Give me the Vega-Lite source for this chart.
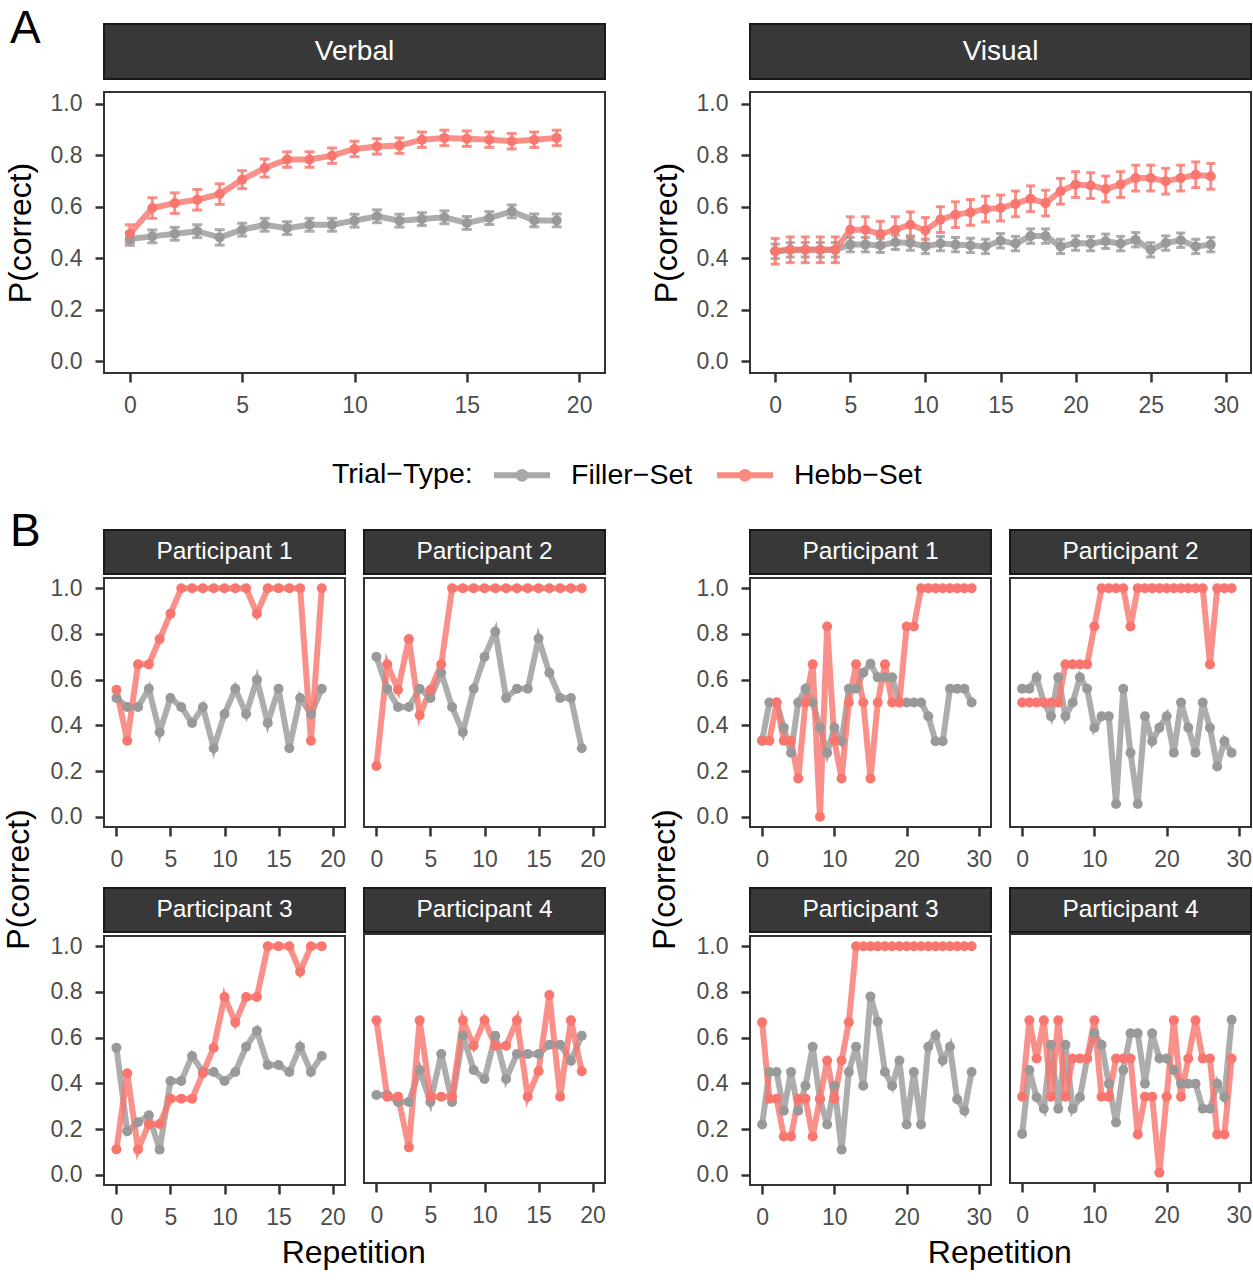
{
  "$schema": "https://vega.github.io/schema/vega-lite/v6.json",
  "description": "Hebb repetition learning: P(correct) by repetition, verbal and visual",
  "background": "white",
  "padding": {"left": 3, "top": 6, "right": 2, "bottom": 4},
  "config": {
    "font": "Liberation Sans",
    "view": {"stroke": "#333333", "strokeWidth": 2},
    "axis": {
      "grid": false, "domain": false, "tickColor": "#333333", "tickWidth": 2.5, "tickSize": 9,
      "labelColor": "#4d4d4d", "labelFontSize": 23, "titleFontSize": 32, "titleFontWeight": "normal", "titleColor": "#000000"
    },
    "axisX": {"labelPadding": 12, "labelAngle": 0},
    "axisY": {"labelPadding": 13, "titlePadding": 13},
    "legend": {
      "orient": "none", "legendX": 228, "legendY": 434, "direction": "horizontal",
      "titleOrient": "left", "titleAnchor": "middle", "titleBaseline": "middle",
      "titleFontSize": 28.5, "titleFontWeight": "normal", "titleColor": "#000000", "titlePadding": 18,
      "labelFontSize": 28.5, "labelColor": "#000000", "labelOffset": 46, "columnPadding": 12,
      "symbolType": "M-1,0L3,0M0.76,0A0.24,0.24,0,1,1,1.24,0A0.24,0.24,0,1,1,0.76,0",
      "symbolSize": 784, "symbolStrokeWidth": 6, "symbolOpacity": 0.85
    },
    "title": {"fontWeight": "normal", "color": "#000000"}
  },
  "datasets": {
    "agg": [
      {"task":"Verbal","rep":0,"type":"Filler−Set","m":0.475,"lo":0.45,"hi":0.5},
      {"task":"Verbal","rep":1,"type":"Filler−Set","m":0.485,"lo":0.46,"hi":0.51},
      {"task":"Verbal","rep":2,"type":"Filler−Set","m":0.495,"lo":0.47,"hi":0.52},
      {"task":"Verbal","rep":3,"type":"Filler−Set","m":0.505,"lo":0.48,"hi":0.53},
      {"task":"Verbal","rep":4,"type":"Filler−Set","m":0.481,"lo":0.451,"hi":0.511},
      {"task":"Verbal","rep":5,"type":"Filler−Set","m":0.511,"lo":0.486,"hi":0.536},
      {"task":"Verbal","rep":6,"type":"Filler−Set","m":0.53,"lo":0.505,"hi":0.555},
      {"task":"Verbal","rep":7,"type":"Filler−Set","m":0.517,"lo":0.492,"hi":0.542},
      {"task":"Verbal","rep":8,"type":"Filler−Set","m":0.53,"lo":0.505,"hi":0.555},
      {"task":"Verbal","rep":9,"type":"Filler−Set","m":0.53,"lo":0.505,"hi":0.555},
      {"task":"Verbal","rep":10,"type":"Filler−Set","m":0.546,"lo":0.521,"hi":0.571},
      {"task":"Verbal","rep":11,"type":"Filler−Set","m":0.563,"lo":0.538,"hi":0.588},
      {"task":"Verbal","rep":12,"type":"Filler−Set","m":0.546,"lo":0.521,"hi":0.571},
      {"task":"Verbal","rep":13,"type":"Filler−Set","m":0.552,"lo":0.527,"hi":0.577},
      {"task":"Verbal","rep":14,"type":"Filler−Set","m":0.559,"lo":0.534,"hi":0.584},
      {"task":"Verbal","rep":15,"type":"Filler−Set","m":0.537,"lo":0.512,"hi":0.562},
      {"task":"Verbal","rep":16,"type":"Filler−Set","m":0.556,"lo":0.531,"hi":0.581},
      {"task":"Verbal","rep":17,"type":"Filler−Set","m":0.582,"lo":0.557,"hi":0.607},
      {"task":"Verbal","rep":18,"type":"Filler−Set","m":0.547,"lo":0.522,"hi":0.572},
      {"task":"Verbal","rep":19,"type":"Filler−Set","m":0.547,"lo":0.522,"hi":0.572},
      {"task":"Verbal","rep":0,"type":"Hebb−Set","m":0.495,"lo":0.46,"hi":0.53},
      {"task":"Verbal","rep":1,"type":"Hebb−Set","m":0.595,"lo":0.555,"hi":0.635},
      {"task":"Verbal","rep":2,"type":"Hebb−Set","m":0.614,"lo":0.574,"hi":0.654},
      {"task":"Verbal","rep":3,"type":"Hebb−Set","m":0.627,"lo":0.587,"hi":0.667},
      {"task":"Verbal","rep":4,"type":"Hebb−Set","m":0.649,"lo":0.609,"hi":0.689},
      {"task":"Verbal","rep":5,"type":"Hebb−Set","m":0.705,"lo":0.67,"hi":0.74},
      {"task":"Verbal","rep":6,"type":"Hebb−Set","m":0.75,"lo":0.715,"hi":0.785},
      {"task":"Verbal","rep":7,"type":"Hebb−Set","m":0.783,"lo":0.753,"hi":0.813},
      {"task":"Verbal","rep":8,"type":"Hebb−Set","m":0.783,"lo":0.753,"hi":0.813},
      {"task":"Verbal","rep":9,"type":"Hebb−Set","m":0.798,"lo":0.768,"hi":0.828},
      {"task":"Verbal","rep":10,"type":"Hebb−Set","m":0.824,"lo":0.794,"hi":0.854},
      {"task":"Verbal","rep":11,"type":"Hebb−Set","m":0.834,"lo":0.804,"hi":0.864},
      {"task":"Verbal","rep":12,"type":"Hebb−Set","m":0.837,"lo":0.807,"hi":0.867},
      {"task":"Verbal","rep":13,"type":"Hebb−Set","m":0.86,"lo":0.83,"hi":0.89},
      {"task":"Verbal","rep":14,"type":"Hebb−Set","m":0.867,"lo":0.837,"hi":0.897},
      {"task":"Verbal","rep":15,"type":"Hebb−Set","m":0.864,"lo":0.834,"hi":0.894},
      {"task":"Verbal","rep":16,"type":"Hebb−Set","m":0.86,"lo":0.83,"hi":0.89},
      {"task":"Verbal","rep":17,"type":"Hebb−Set","m":0.854,"lo":0.824,"hi":0.884},
      {"task":"Verbal","rep":18,"type":"Hebb−Set","m":0.86,"lo":0.83,"hi":0.89},
      {"task":"Verbal","rep":19,"type":"Hebb−Set","m":0.867,"lo":0.837,"hi":0.897},
      {"task":"Visual","rep":0,"type":"Filler−Set","m":0.427,"lo":0.399,"hi":0.455},
      {"task":"Visual","rep":1,"type":"Filler−Set","m":0.433,"lo":0.405,"hi":0.461},
      {"task":"Visual","rep":2,"type":"Filler−Set","m":0.433,"lo":0.405,"hi":0.461},
      {"task":"Visual","rep":3,"type":"Filler−Set","m":0.433,"lo":0.405,"hi":0.461},
      {"task":"Visual","rep":4,"type":"Filler−Set","m":0.433,"lo":0.405,"hi":0.461},
      {"task":"Visual","rep":5,"type":"Filler−Set","m":0.453,"lo":0.425,"hi":0.481},
      {"task":"Visual","rep":6,"type":"Filler−Set","m":0.453,"lo":0.425,"hi":0.481},
      {"task":"Visual","rep":7,"type":"Filler−Set","m":0.45,"lo":0.422,"hi":0.478},
      {"task":"Visual","rep":8,"type":"Filler−Set","m":0.462,"lo":0.434,"hi":0.49},
      {"task":"Visual","rep":9,"type":"Filler−Set","m":0.459,"lo":0.431,"hi":0.487},
      {"task":"Visual","rep":10,"type":"Filler−Set","m":0.446,"lo":0.418,"hi":0.474},
      {"task":"Visual","rep":11,"type":"Filler−Set","m":0.457,"lo":0.429,"hi":0.485},
      {"task":"Visual","rep":12,"type":"Filler−Set","m":0.453,"lo":0.425,"hi":0.481},
      {"task":"Visual","rep":13,"type":"Filler−Set","m":0.45,"lo":0.422,"hi":0.478},
      {"task":"Visual","rep":14,"type":"Filler−Set","m":0.446,"lo":0.418,"hi":0.474},
      {"task":"Visual","rep":15,"type":"Filler−Set","m":0.468,"lo":0.44,"hi":0.496},
      {"task":"Visual","rep":16,"type":"Filler−Set","m":0.457,"lo":0.429,"hi":0.485},
      {"task":"Visual","rep":17,"type":"Filler−Set","m":0.486,"lo":0.458,"hi":0.514},
      {"task":"Visual","rep":18,"type":"Filler−Set","m":0.486,"lo":0.458,"hi":0.514},
      {"task":"Visual","rep":19,"type":"Filler−Set","m":0.446,"lo":0.418,"hi":0.474},
      {"task":"Visual","rep":20,"type":"Filler−Set","m":0.459,"lo":0.431,"hi":0.487},
      {"task":"Visual","rep":21,"type":"Filler−Set","m":0.457,"lo":0.429,"hi":0.485},
      {"task":"Visual","rep":22,"type":"Filler−Set","m":0.466,"lo":0.438,"hi":0.494},
      {"task":"Visual","rep":23,"type":"Filler−Set","m":0.457,"lo":0.429,"hi":0.485},
      {"task":"Visual","rep":24,"type":"Filler−Set","m":0.472,"lo":0.444,"hi":0.5},
      {"task":"Visual","rep":25,"type":"Filler−Set","m":0.433,"lo":0.405,"hi":0.461},
      {"task":"Visual","rep":26,"type":"Filler−Set","m":0.459,"lo":0.431,"hi":0.487},
      {"task":"Visual","rep":27,"type":"Filler−Set","m":0.47,"lo":0.442,"hi":0.498},
      {"task":"Visual","rep":28,"type":"Filler−Set","m":0.446,"lo":0.418,"hi":0.474},
      {"task":"Visual","rep":29,"type":"Filler−Set","m":0.453,"lo":0.425,"hi":0.481},
      {"task":"Visual","rep":0,"type":"Hebb−Set","m":0.427,"lo":0.377,"hi":0.477},
      {"task":"Visual","rep":1,"type":"Hebb−Set","m":0.433,"lo":0.383,"hi":0.483},
      {"task":"Visual","rep":2,"type":"Hebb−Set","m":0.433,"lo":0.383,"hi":0.483},
      {"task":"Visual","rep":3,"type":"Hebb−Set","m":0.433,"lo":0.383,"hi":0.483},
      {"task":"Visual","rep":4,"type":"Hebb−Set","m":0.433,"lo":0.383,"hi":0.483},
      {"task":"Visual","rep":5,"type":"Hebb−Set","m":0.511,"lo":0.461,"hi":0.561},
      {"task":"Visual","rep":6,"type":"Hebb−Set","m":0.511,"lo":0.461,"hi":0.561},
      {"task":"Visual","rep":7,"type":"Hebb−Set","m":0.494,"lo":0.444,"hi":0.544},
      {"task":"Visual","rep":8,"type":"Hebb−Set","m":0.511,"lo":0.461,"hi":0.561},
      {"task":"Visual","rep":9,"type":"Hebb−Set","m":0.53,"lo":0.48,"hi":0.58},
      {"task":"Visual","rep":10,"type":"Hebb−Set","m":0.508,"lo":0.458,"hi":0.558},
      {"task":"Visual","rep":11,"type":"Hebb−Set","m":0.55,"lo":0.5,"hi":0.6},
      {"task":"Visual","rep":12,"type":"Hebb−Set","m":0.569,"lo":0.519,"hi":0.619},
      {"task":"Visual","rep":13,"type":"Hebb−Set","m":0.578,"lo":0.528,"hi":0.628},
      {"task":"Visual","rep":14,"type":"Hebb−Set","m":0.591,"lo":0.541,"hi":0.641},
      {"task":"Visual","rep":15,"type":"Hebb−Set","m":0.595,"lo":0.545,"hi":0.645},
      {"task":"Visual","rep":16,"type":"Hebb−Set","m":0.611,"lo":0.561,"hi":0.661},
      {"task":"Visual","rep":17,"type":"Hebb−Set","m":0.631,"lo":0.581,"hi":0.681},
      {"task":"Visual","rep":18,"type":"Hebb−Set","m":0.614,"lo":0.564,"hi":0.664},
      {"task":"Visual","rep":19,"type":"Hebb−Set","m":0.66,"lo":0.61,"hi":0.71},
      {"task":"Visual","rep":20,"type":"Hebb−Set","m":0.686,"lo":0.636,"hi":0.736},
      {"task":"Visual","rep":21,"type":"Hebb−Set","m":0.682,"lo":0.632,"hi":0.732},
      {"task":"Visual","rep":22,"type":"Hebb−Set","m":0.669,"lo":0.619,"hi":0.719},
      {"task":"Visual","rep":23,"type":"Hebb−Set","m":0.686,"lo":0.636,"hi":0.736},
      {"task":"Visual","rep":24,"type":"Hebb−Set","m":0.711,"lo":0.661,"hi":0.761},
      {"task":"Visual","rep":25,"type":"Hebb−Set","m":0.711,"lo":0.661,"hi":0.761},
      {"task":"Visual","rep":26,"type":"Hebb−Set","m":0.699,"lo":0.649,"hi":0.749},
      {"task":"Visual","rep":27,"type":"Hebb−Set","m":0.711,"lo":0.661,"hi":0.761},
      {"task":"Visual","rep":28,"type":"Hebb−Set","m":0.724,"lo":0.674,"hi":0.774},
      {"task":"Visual","rep":29,"type":"Hebb−Set","m":0.718,"lo":0.668,"hi":0.768}
    ],
    "verbal": [
      {"pid":1,"rep":0,"type":"Filler−Set","p":0.52},{"pid":1,"rep":1,"type":"Filler−Set","p":0.48},{"pid":1,"rep":2,"type":"Filler−Set","p":0.48},{"pid":1,"rep":3,"type":"Filler−Set","p":0.56},{"pid":1,"rep":4,"type":"Filler−Set","p":0.37},
      {"pid":1,"rep":5,"type":"Filler−Set","p":0.52},{"pid":1,"rep":6,"type":"Filler−Set","p":0.48},{"pid":1,"rep":7,"type":"Filler−Set","p":0.41},{"pid":1,"rep":8,"type":"Filler−Set","p":0.48},{"pid":1,"rep":9,"type":"Filler−Set","p":0.3},
      {"pid":1,"rep":10,"type":"Filler−Set","p":0.45},{"pid":1,"rep":11,"type":"Filler−Set","p":0.56},{"pid":1,"rep":12,"type":"Filler−Set","p":0.45},{"pid":1,"rep":13,"type":"Filler−Set","p":0.6},{"pid":1,"rep":14,"type":"Filler−Set","p":0.41},
      {"pid":1,"rep":15,"type":"Filler−Set","p":0.56},{"pid":1,"rep":16,"type":"Filler−Set","p":0.3},{"pid":1,"rep":17,"type":"Filler−Set","p":0.52},{"pid":1,"rep":18,"type":"Filler−Set","p":0.45},{"pid":1,"rep":19,"type":"Filler−Set","p":0.56},
      {"pid":1,"rep":0,"type":"Hebb−Set","p":0.556},{"pid":1,"rep":1,"type":"Hebb−Set","p":0.333},{"pid":1,"rep":2,"type":"Hebb−Set","p":0.667},{"pid":1,"rep":3,"type":"Hebb−Set","p":0.667},{"pid":1,"rep":4,"type":"Hebb−Set","p":0.778},
      {"pid":1,"rep":5,"type":"Hebb−Set","p":0.889},{"pid":1,"rep":6,"type":"Hebb−Set","p":1},{"pid":1,"rep":7,"type":"Hebb−Set","p":1},{"pid":1,"rep":8,"type":"Hebb−Set","p":1},{"pid":1,"rep":9,"type":"Hebb−Set","p":1},
      {"pid":1,"rep":10,"type":"Hebb−Set","p":1},{"pid":1,"rep":11,"type":"Hebb−Set","p":1},{"pid":1,"rep":12,"type":"Hebb−Set","p":1},{"pid":1,"rep":13,"type":"Hebb−Set","p":0.889},{"pid":1,"rep":14,"type":"Hebb−Set","p":1},
      {"pid":1,"rep":15,"type":"Hebb−Set","p":1},{"pid":1,"rep":16,"type":"Hebb−Set","p":1},{"pid":1,"rep":17,"type":"Hebb−Set","p":1},{"pid":1,"rep":18,"type":"Hebb−Set","p":0.333},{"pid":1,"rep":19,"type":"Hebb−Set","p":1},
      {"pid":2,"rep":0,"type":"Filler−Set","p":0.7},{"pid":2,"rep":1,"type":"Filler−Set","p":0.56},{"pid":2,"rep":2,"type":"Filler−Set","p":0.48},{"pid":2,"rep":3,"type":"Filler−Set","p":0.48},{"pid":2,"rep":4,"type":"Filler−Set","p":0.56},
      {"pid":2,"rep":5,"type":"Filler−Set","p":0.52},{"pid":2,"rep":6,"type":"Filler−Set","p":0.63},{"pid":2,"rep":7,"type":"Filler−Set","p":0.48},{"pid":2,"rep":8,"type":"Filler−Set","p":0.37},{"pid":2,"rep":9,"type":"Filler−Set","p":0.56},
      {"pid":2,"rep":10,"type":"Filler−Set","p":0.7},{"pid":2,"rep":11,"type":"Filler−Set","p":0.81},{"pid":2,"rep":12,"type":"Filler−Set","p":0.52},{"pid":2,"rep":13,"type":"Filler−Set","p":0.56},{"pid":2,"rep":14,"type":"Filler−Set","p":0.56},
      {"pid":2,"rep":15,"type":"Filler−Set","p":0.78},{"pid":2,"rep":16,"type":"Filler−Set","p":0.63},{"pid":2,"rep":17,"type":"Filler−Set","p":0.52},{"pid":2,"rep":18,"type":"Filler−Set","p":0.52},{"pid":2,"rep":19,"type":"Filler−Set","p":0.3},
      {"pid":2,"rep":0,"type":"Hebb−Set","p":0.222},{"pid":2,"rep":1,"type":"Hebb−Set","p":0.667},{"pid":2,"rep":2,"type":"Hebb−Set","p":0.556},{"pid":2,"rep":3,"type":"Hebb−Set","p":0.778},{"pid":2,"rep":4,"type":"Hebb−Set","p":0.444},
      {"pid":2,"rep":5,"type":"Hebb−Set","p":0.556},{"pid":2,"rep":6,"type":"Hebb−Set","p":0.667},{"pid":2,"rep":7,"type":"Hebb−Set","p":1},{"pid":2,"rep":8,"type":"Hebb−Set","p":1},{"pid":2,"rep":9,"type":"Hebb−Set","p":1},
      {"pid":2,"rep":10,"type":"Hebb−Set","p":1},{"pid":2,"rep":11,"type":"Hebb−Set","p":1},{"pid":2,"rep":12,"type":"Hebb−Set","p":1},{"pid":2,"rep":13,"type":"Hebb−Set","p":1},{"pid":2,"rep":14,"type":"Hebb−Set","p":1},
      {"pid":2,"rep":15,"type":"Hebb−Set","p":1},{"pid":2,"rep":16,"type":"Hebb−Set","p":1},{"pid":2,"rep":17,"type":"Hebb−Set","p":1},{"pid":2,"rep":18,"type":"Hebb−Set","p":1},{"pid":2,"rep":19,"type":"Hebb−Set","p":1},
      {"pid":3,"rep":0,"type":"Filler−Set","p":0.556},{"pid":3,"rep":1,"type":"Filler−Set","p":0.19},{"pid":3,"rep":2,"type":"Filler−Set","p":0.23},{"pid":3,"rep":3,"type":"Filler−Set","p":0.26},{"pid":3,"rep":4,"type":"Filler−Set","p":0.11},
      {"pid":3,"rep":5,"type":"Filler−Set","p":0.41},{"pid":3,"rep":6,"type":"Filler−Set","p":0.41},{"pid":3,"rep":7,"type":"Filler−Set","p":0.52},{"pid":3,"rep":8,"type":"Filler−Set","p":0.45},{"pid":3,"rep":9,"type":"Filler−Set","p":0.45},
      {"pid":3,"rep":10,"type":"Filler−Set","p":0.41},{"pid":3,"rep":11,"type":"Filler−Set","p":0.45},{"pid":3,"rep":12,"type":"Filler−Set","p":0.56},{"pid":3,"rep":13,"type":"Filler−Set","p":0.63},{"pid":3,"rep":14,"type":"Filler−Set","p":0.48},
      {"pid":3,"rep":15,"type":"Filler−Set","p":0.48},{"pid":3,"rep":16,"type":"Filler−Set","p":0.45},{"pid":3,"rep":17,"type":"Filler−Set","p":0.56},{"pid":3,"rep":18,"type":"Filler−Set","p":0.45},{"pid":3,"rep":19,"type":"Filler−Set","p":0.52},
      {"pid":3,"rep":0,"type":"Hebb−Set","p":0.111},{"pid":3,"rep":1,"type":"Hebb−Set","p":0.444},{"pid":3,"rep":2,"type":"Hebb−Set","p":0.111},{"pid":3,"rep":3,"type":"Hebb−Set","p":0.222},{"pid":3,"rep":4,"type":"Hebb−Set","p":0.222},
      {"pid":3,"rep":5,"type":"Hebb−Set","p":0.333},{"pid":3,"rep":6,"type":"Hebb−Set","p":0.333},{"pid":3,"rep":7,"type":"Hebb−Set","p":0.333},{"pid":3,"rep":8,"type":"Hebb−Set","p":0.444},{"pid":3,"rep":9,"type":"Hebb−Set","p":0.556},
      {"pid":3,"rep":10,"type":"Hebb−Set","p":0.778},{"pid":3,"rep":11,"type":"Hebb−Set","p":0.667},{"pid":3,"rep":12,"type":"Hebb−Set","p":0.778},{"pid":3,"rep":13,"type":"Hebb−Set","p":0.778},{"pid":3,"rep":14,"type":"Hebb−Set","p":1},
      {"pid":3,"rep":15,"type":"Hebb−Set","p":1},{"pid":3,"rep":16,"type":"Hebb−Set","p":1},{"pid":3,"rep":17,"type":"Hebb−Set","p":0.889},{"pid":3,"rep":18,"type":"Hebb−Set","p":1},{"pid":3,"rep":19,"type":"Hebb−Set","p":1},
      {"pid":4,"rep":0,"type":"Filler−Set","p":0.34},{"pid":4,"rep":1,"type":"Filler−Set","p":0.34},{"pid":4,"rep":2,"type":"Filler−Set","p":0.31},{"pid":4,"rep":3,"type":"Filler−Set","p":0.31},{"pid":4,"rep":4,"type":"Filler−Set","p":0.45},
      {"pid":4,"rep":5,"type":"Filler−Set","p":0.31},{"pid":4,"rep":6,"type":"Filler−Set","p":0.52},{"pid":4,"rep":7,"type":"Filler−Set","p":0.31},{"pid":4,"rep":8,"type":"Filler−Set","p":0.6},{"pid":4,"rep":9,"type":"Filler−Set","p":0.45},
      {"pid":4,"rep":10,"type":"Filler−Set","p":0.41},{"pid":4,"rep":11,"type":"Filler−Set","p":0.6},{"pid":4,"rep":12,"type":"Filler−Set","p":0.41},{"pid":4,"rep":13,"type":"Filler−Set","p":0.52},{"pid":4,"rep":14,"type":"Filler−Set","p":0.52},
      {"pid":4,"rep":15,"type":"Filler−Set","p":0.52},{"pid":4,"rep":16,"type":"Filler−Set","p":0.56},{"pid":4,"rep":17,"type":"Filler−Set","p":0.56},{"pid":4,"rep":18,"type":"Filler−Set","p":0.49},{"pid":4,"rep":19,"type":"Filler−Set","p":0.6},
      {"pid":4,"rep":0,"type":"Hebb−Set","p":0.667},{"pid":4,"rep":1,"type":"Hebb−Set","p":0.333},{"pid":4,"rep":2,"type":"Hebb−Set","p":0.333},{"pid":4,"rep":3,"type":"Hebb−Set","p":0.111},{"pid":4,"rep":4,"type":"Hebb−Set","p":0.667},
      {"pid":4,"rep":5,"type":"Hebb−Set","p":0.333},{"pid":4,"rep":6,"type":"Hebb−Set","p":0.333},{"pid":4,"rep":7,"type":"Hebb−Set","p":0.333},{"pid":4,"rep":8,"type":"Hebb−Set","p":0.667},{"pid":4,"rep":9,"type":"Hebb−Set","p":0.556},
      {"pid":4,"rep":10,"type":"Hebb−Set","p":0.667},{"pid":4,"rep":11,"type":"Hebb−Set","p":0.556},{"pid":4,"rep":12,"type":"Hebb−Set","p":0.556},{"pid":4,"rep":13,"type":"Hebb−Set","p":0.667},{"pid":4,"rep":14,"type":"Hebb−Set","p":0.333},
      {"pid":4,"rep":15,"type":"Hebb−Set","p":0.444},{"pid":4,"rep":16,"type":"Hebb−Set","p":0.778},{"pid":4,"rep":17,"type":"Hebb−Set","p":0.333},{"pid":4,"rep":18,"type":"Hebb−Set","p":0.667},{"pid":4,"rep":19,"type":"Hebb−Set","p":0.444}
    ],
    "visual": [
      {"pid":1,"rep":0,"type":"Filler−Set","p":0.333},{"pid":1,"rep":1,"type":"Filler−Set","p":0.5},{"pid":1,"rep":2,"type":"Filler−Set","p":0.5},{"pid":1,"rep":3,"type":"Filler−Set","p":0.39},{"pid":1,"rep":4,"type":"Filler−Set","p":0.28},
      {"pid":1,"rep":5,"type":"Filler−Set","p":0.5},{"pid":1,"rep":6,"type":"Filler−Set","p":0.56},{"pid":1,"rep":7,"type":"Filler−Set","p":0.5},{"pid":1,"rep":8,"type":"Filler−Set","p":0.39},{"pid":1,"rep":9,"type":"Filler−Set","p":0.28},
      {"pid":1,"rep":10,"type":"Filler−Set","p":0.39},{"pid":1,"rep":11,"type":"Filler−Set","p":0.33},{"pid":1,"rep":12,"type":"Filler−Set","p":0.56},{"pid":1,"rep":13,"type":"Filler−Set","p":0.56},{"pid":1,"rep":14,"type":"Filler−Set","p":0.63},
      {"pid":1,"rep":15,"type":"Filler−Set","p":0.67},{"pid":1,"rep":16,"type":"Filler−Set","p":0.61},{"pid":1,"rep":17,"type":"Filler−Set","p":0.61},{"pid":1,"rep":18,"type":"Filler−Set","p":0.61},{"pid":1,"rep":19,"type":"Filler−Set","p":0.5},
      {"pid":1,"rep":20,"type":"Filler−Set","p":0.5},{"pid":1,"rep":21,"type":"Filler−Set","p":0.5},{"pid":1,"rep":22,"type":"Filler−Set","p":0.5},{"pid":1,"rep":23,"type":"Filler−Set","p":0.44},{"pid":1,"rep":24,"type":"Filler−Set","p":0.33},
      {"pid":1,"rep":25,"type":"Filler−Set","p":0.33},{"pid":1,"rep":26,"type":"Filler−Set","p":0.56},{"pid":1,"rep":27,"type":"Filler−Set","p":0.56},{"pid":1,"rep":28,"type":"Filler−Set","p":0.56},{"pid":1,"rep":29,"type":"Filler−Set","p":0.5},
      {"pid":1,"rep":0,"type":"Hebb−Set","p":0.333},{"pid":1,"rep":1,"type":"Hebb−Set","p":0.333},{"pid":1,"rep":2,"type":"Hebb−Set","p":0.5},{"pid":1,"rep":3,"type":"Hebb−Set","p":0.333},{"pid":1,"rep":4,"type":"Hebb−Set","p":0.333},
      {"pid":1,"rep":5,"type":"Hebb−Set","p":0.167},{"pid":1,"rep":6,"type":"Hebb−Set","p":0.5},{"pid":1,"rep":7,"type":"Hebb−Set","p":0.667},{"pid":1,"rep":8,"type":"Hebb−Set","p":0},{"pid":1,"rep":9,"type":"Hebb−Set","p":0.833},
      {"pid":1,"rep":10,"type":"Hebb−Set","p":0.333},{"pid":1,"rep":11,"type":"Hebb−Set","p":0.167},{"pid":1,"rep":12,"type":"Hebb−Set","p":0.5},{"pid":1,"rep":13,"type":"Hebb−Set","p":0.667},{"pid":1,"rep":14,"type":"Hebb−Set","p":0.5},
      {"pid":1,"rep":15,"type":"Hebb−Set","p":0.167},{"pid":1,"rep":16,"type":"Hebb−Set","p":0.5},{"pid":1,"rep":17,"type":"Hebb−Set","p":0.667},{"pid":1,"rep":18,"type":"Hebb−Set","p":0.5},{"pid":1,"rep":19,"type":"Hebb−Set","p":0.5},
      {"pid":1,"rep":20,"type":"Hebb−Set","p":0.833},{"pid":1,"rep":21,"type":"Hebb−Set","p":0.833},{"pid":1,"rep":22,"type":"Hebb−Set","p":1},{"pid":1,"rep":23,"type":"Hebb−Set","p":1},{"pid":1,"rep":24,"type":"Hebb−Set","p":1},
      {"pid":1,"rep":25,"type":"Hebb−Set","p":1},{"pid":1,"rep":26,"type":"Hebb−Set","p":1},{"pid":1,"rep":27,"type":"Hebb−Set","p":1},{"pid":1,"rep":28,"type":"Hebb−Set","p":1},{"pid":1,"rep":29,"type":"Hebb−Set","p":1},
      {"pid":2,"rep":0,"type":"Filler−Set","p":0.56},{"pid":2,"rep":1,"type":"Filler−Set","p":0.56},{"pid":2,"rep":2,"type":"Filler−Set","p":0.61},{"pid":2,"rep":3,"type":"Filler−Set","p":0.5},{"pid":2,"rep":4,"type":"Filler−Set","p":0.44},
      {"pid":2,"rep":5,"type":"Filler−Set","p":0.61},{"pid":2,"rep":6,"type":"Filler−Set","p":0.44},{"pid":2,"rep":7,"type":"Filler−Set","p":0.5},{"pid":2,"rep":8,"type":"Filler−Set","p":0.61},{"pid":2,"rep":9,"type":"Filler−Set","p":0.56},
      {"pid":2,"rep":10,"type":"Filler−Set","p":0.39},{"pid":2,"rep":11,"type":"Filler−Set","p":0.44},{"pid":2,"rep":12,"type":"Filler−Set","p":0.44},{"pid":2,"rep":13,"type":"Filler−Set","p":0.056},{"pid":2,"rep":14,"type":"Filler−Set","p":0.56},
      {"pid":2,"rep":15,"type":"Filler−Set","p":0.28},{"pid":2,"rep":16,"type":"Filler−Set","p":0.056},{"pid":2,"rep":17,"type":"Filler−Set","p":0.44},{"pid":2,"rep":18,"type":"Filler−Set","p":0.33},{"pid":2,"rep":19,"type":"Filler−Set","p":0.39},
      {"pid":2,"rep":20,"type":"Filler−Set","p":0.44},{"pid":2,"rep":21,"type":"Filler−Set","p":0.28},{"pid":2,"rep":22,"type":"Filler−Set","p":0.5},{"pid":2,"rep":23,"type":"Filler−Set","p":0.39},{"pid":2,"rep":24,"type":"Filler−Set","p":0.28},
      {"pid":2,"rep":25,"type":"Filler−Set","p":0.5},{"pid":2,"rep":26,"type":"Filler−Set","p":0.39},{"pid":2,"rep":27,"type":"Filler−Set","p":0.22},{"pid":2,"rep":28,"type":"Filler−Set","p":0.33},{"pid":2,"rep":29,"type":"Filler−Set","p":0.28},
      {"pid":2,"rep":0,"type":"Hebb−Set","p":0.5},{"pid":2,"rep":1,"type":"Hebb−Set","p":0.5},{"pid":2,"rep":2,"type":"Hebb−Set","p":0.5},{"pid":2,"rep":3,"type":"Hebb−Set","p":0.5},{"pid":2,"rep":4,"type":"Hebb−Set","p":0.5},
      {"pid":2,"rep":5,"type":"Hebb−Set","p":0.5},{"pid":2,"rep":6,"type":"Hebb−Set","p":0.667},{"pid":2,"rep":7,"type":"Hebb−Set","p":0.667},{"pid":2,"rep":8,"type":"Hebb−Set","p":0.667},{"pid":2,"rep":9,"type":"Hebb−Set","p":0.667},
      {"pid":2,"rep":10,"type":"Hebb−Set","p":0.833},{"pid":2,"rep":11,"type":"Hebb−Set","p":1},{"pid":2,"rep":12,"type":"Hebb−Set","p":1},{"pid":2,"rep":13,"type":"Hebb−Set","p":1},{"pid":2,"rep":14,"type":"Hebb−Set","p":1},
      {"pid":2,"rep":15,"type":"Hebb−Set","p":0.833},{"pid":2,"rep":16,"type":"Hebb−Set","p":1},{"pid":2,"rep":17,"type":"Hebb−Set","p":1},{"pid":2,"rep":18,"type":"Hebb−Set","p":1},{"pid":2,"rep":19,"type":"Hebb−Set","p":1},
      {"pid":2,"rep":20,"type":"Hebb−Set","p":1},{"pid":2,"rep":21,"type":"Hebb−Set","p":1},{"pid":2,"rep":22,"type":"Hebb−Set","p":1},{"pid":2,"rep":23,"type":"Hebb−Set","p":1},{"pid":2,"rep":24,"type":"Hebb−Set","p":1},
      {"pid":2,"rep":25,"type":"Hebb−Set","p":1},{"pid":2,"rep":26,"type":"Hebb−Set","p":0.667},{"pid":2,"rep":27,"type":"Hebb−Set","p":1},{"pid":2,"rep":28,"type":"Hebb−Set","p":1},{"pid":2,"rep":29,"type":"Hebb−Set","p":1},
      {"pid":3,"rep":0,"type":"Filler−Set","p":0.22},{"pid":3,"rep":1,"type":"Filler−Set","p":0.45},{"pid":3,"rep":2,"type":"Filler−Set","p":0.45},{"pid":3,"rep":3,"type":"Filler−Set","p":0.28},{"pid":3,"rep":4,"type":"Filler−Set","p":0.45},
      {"pid":3,"rep":5,"type":"Filler−Set","p":0.28},{"pid":3,"rep":6,"type":"Filler−Set","p":0.39},{"pid":3,"rep":7,"type":"Filler−Set","p":0.56},{"pid":3,"rep":8,"type":"Filler−Set","p":0.33},{"pid":3,"rep":9,"type":"Filler−Set","p":0.22},
      {"pid":3,"rep":10,"type":"Filler−Set","p":0.39},{"pid":3,"rep":11,"type":"Filler−Set","p":0.11},{"pid":3,"rep":12,"type":"Filler−Set","p":0.45},{"pid":3,"rep":13,"type":"Filler−Set","p":0.56},{"pid":3,"rep":14,"type":"Filler−Set","p":0.39},
      {"pid":3,"rep":15,"type":"Filler−Set","p":0.78},{"pid":3,"rep":16,"type":"Filler−Set","p":0.67},{"pid":3,"rep":17,"type":"Filler−Set","p":0.45},{"pid":3,"rep":18,"type":"Filler−Set","p":0.39},{"pid":3,"rep":19,"type":"Filler−Set","p":0.5},
      {"pid":3,"rep":20,"type":"Filler−Set","p":0.22},{"pid":3,"rep":21,"type":"Filler−Set","p":0.45},{"pid":3,"rep":22,"type":"Filler−Set","p":0.22},{"pid":3,"rep":23,"type":"Filler−Set","p":0.56},{"pid":3,"rep":24,"type":"Filler−Set","p":0.61},
      {"pid":3,"rep":25,"type":"Filler−Set","p":0.5},{"pid":3,"rep":26,"type":"Filler−Set","p":0.56},{"pid":3,"rep":27,"type":"Filler−Set","p":0.33},{"pid":3,"rep":28,"type":"Filler−Set","p":0.28},{"pid":3,"rep":29,"type":"Filler−Set","p":0.45},
      {"pid":3,"rep":0,"type":"Hebb−Set","p":0.667},{"pid":3,"rep":1,"type":"Hebb−Set","p":0.333},{"pid":3,"rep":2,"type":"Hebb−Set","p":0.333},{"pid":3,"rep":3,"type":"Hebb−Set","p":0.167},{"pid":3,"rep":4,"type":"Hebb−Set","p":0.167},
      {"pid":3,"rep":5,"type":"Hebb−Set","p":0.333},{"pid":3,"rep":6,"type":"Hebb−Set","p":0.333},{"pid":3,"rep":7,"type":"Hebb−Set","p":0.167},{"pid":3,"rep":8,"type":"Hebb−Set","p":0.333},{"pid":3,"rep":9,"type":"Hebb−Set","p":0.5},
      {"pid":3,"rep":10,"type":"Hebb−Set","p":0.333},{"pid":3,"rep":11,"type":"Hebb−Set","p":0.5},{"pid":3,"rep":12,"type":"Hebb−Set","p":0.667},{"pid":3,"rep":13,"type":"Hebb−Set","p":1},{"pid":3,"rep":14,"type":"Hebb−Set","p":1},
      {"pid":3,"rep":15,"type":"Hebb−Set","p":1},{"pid":3,"rep":16,"type":"Hebb−Set","p":1},{"pid":3,"rep":17,"type":"Hebb−Set","p":1},{"pid":3,"rep":18,"type":"Hebb−Set","p":1},{"pid":3,"rep":19,"type":"Hebb−Set","p":1},
      {"pid":3,"rep":20,"type":"Hebb−Set","p":1},{"pid":3,"rep":21,"type":"Hebb−Set","p":1},{"pid":3,"rep":22,"type":"Hebb−Set","p":1},{"pid":3,"rep":23,"type":"Hebb−Set","p":1},{"pid":3,"rep":24,"type":"Hebb−Set","p":1},
      {"pid":3,"rep":25,"type":"Hebb−Set","p":1},{"pid":3,"rep":26,"type":"Hebb−Set","p":1},{"pid":3,"rep":27,"type":"Hebb−Set","p":1},{"pid":3,"rep":28,"type":"Hebb−Set","p":1},{"pid":3,"rep":29,"type":"Hebb−Set","p":1},
      {"pid":4,"rep":0,"type":"Filler−Set","p":0.17},{"pid":4,"rep":1,"type":"Filler−Set","p":0.45},{"pid":4,"rep":2,"type":"Filler−Set","p":0.33},{"pid":4,"rep":3,"type":"Filler−Set","p":0.28},{"pid":4,"rep":4,"type":"Filler−Set","p":0.56},
      {"pid":4,"rep":5,"type":"Filler−Set","p":0.28},{"pid":4,"rep":6,"type":"Filler−Set","p":0.56},{"pid":4,"rep":7,"type":"Filler−Set","p":0.28},{"pid":4,"rep":8,"type":"Filler−Set","p":0.33},{"pid":4,"rep":9,"type":"Filler−Set","p":0.5},
      {"pid":4,"rep":10,"type":"Filler−Set","p":0.61},{"pid":4,"rep":11,"type":"Filler−Set","p":0.56},{"pid":4,"rep":12,"type":"Filler−Set","p":0.39},{"pid":4,"rep":13,"type":"Filler−Set","p":0.22},{"pid":4,"rep":14,"type":"Filler−Set","p":0.45},
      {"pid":4,"rep":15,"type":"Filler−Set","p":0.61},{"pid":4,"rep":16,"type":"Filler−Set","p":0.61},{"pid":4,"rep":17,"type":"Filler−Set","p":0.39},{"pid":4,"rep":18,"type":"Filler−Set","p":0.61},{"pid":4,"rep":19,"type":"Filler−Set","p":0.5},
      {"pid":4,"rep":20,"type":"Filler−Set","p":0.5},{"pid":4,"rep":21,"type":"Filler−Set","p":0.45},{"pid":4,"rep":22,"type":"Filler−Set","p":0.39},{"pid":4,"rep":23,"type":"Filler−Set","p":0.39},{"pid":4,"rep":24,"type":"Filler−Set","p":0.39},
      {"pid":4,"rep":25,"type":"Filler−Set","p":0.28},{"pid":4,"rep":26,"type":"Filler−Set","p":0.28},{"pid":4,"rep":27,"type":"Filler−Set","p":0.39},{"pid":4,"rep":28,"type":"Filler−Set","p":0.33},{"pid":4,"rep":29,"type":"Filler−Set","p":0.67},
      {"pid":4,"rep":0,"type":"Hebb−Set","p":0.333},{"pid":4,"rep":1,"type":"Hebb−Set","p":0.667},{"pid":4,"rep":2,"type":"Hebb−Set","p":0.5},{"pid":4,"rep":3,"type":"Hebb−Set","p":0.667},{"pid":4,"rep":4,"type":"Hebb−Set","p":0.333},
      {"pid":4,"rep":5,"type":"Hebb−Set","p":0.667},{"pid":4,"rep":6,"type":"Hebb−Set","p":0.333},{"pid":4,"rep":7,"type":"Hebb−Set","p":0.5},{"pid":4,"rep":8,"type":"Hebb−Set","p":0.5},{"pid":4,"rep":9,"type":"Hebb−Set","p":0.5},
      {"pid":4,"rep":10,"type":"Hebb−Set","p":0.667},{"pid":4,"rep":11,"type":"Hebb−Set","p":0.333},{"pid":4,"rep":12,"type":"Hebb−Set","p":0.333},{"pid":4,"rep":13,"type":"Hebb−Set","p":0.5},{"pid":4,"rep":14,"type":"Hebb−Set","p":0.5},
      {"pid":4,"rep":15,"type":"Hebb−Set","p":0.5},{"pid":4,"rep":16,"type":"Hebb−Set","p":0.167},{"pid":4,"rep":17,"type":"Hebb−Set","p":0.333},{"pid":4,"rep":18,"type":"Hebb−Set","p":0.333},{"pid":4,"rep":19,"type":"Hebb−Set","p":0},
      {"pid":4,"rep":20,"type":"Hebb−Set","p":0.333},{"pid":4,"rep":21,"type":"Hebb−Set","p":0.667},{"pid":4,"rep":22,"type":"Hebb−Set","p":0.333},{"pid":4,"rep":23,"type":"Hebb−Set","p":0.5},{"pid":4,"rep":24,"type":"Hebb−Set","p":0.667},
      {"pid":4,"rep":25,"type":"Hebb−Set","p":0.5},{"pid":4,"rep":26,"type":"Hebb−Set","p":0.5},{"pid":4,"rep":27,"type":"Hebb−Set","p":0.167},{"pid":4,"rep":28,"type":"Hebb−Set","p":0.167},{"pid":4,"rep":29,"type":"Hebb−Set","p":0.5}
    ]
  },
  "spacing": 91,
  "vconcat": [
    {
      "title": {"text": "A", "anchor": "start", "frame": "bounds", "fontSize": 46, "offset": -30, "dx": 7},
      "spacing": 43,
      "hconcat": [
        {
          "spacing": 11,
          "vconcat": [
            {"width": 501, "height": 55, "view": {"fill": "#383838", "stroke": "#1a1a1a", "strokeWidth": 2},
             "data": {"values": [{"s": "Verbal"}]}, "mark": {"type": "text", "color": "white", "fontSize": 28},
             "encoding": {"text": {"field": "s", "type": "nominal"}}},
            {"width": 501, "height": 281, "data": {"name": "agg"}, "transform": [{"filter": "datum.task === 'Verbal'"}],
             "encoding": {
               "x": {"field": "rep", "type": "quantitative", "scale": {"domain": [-1.15, 21.15], "nice": false, "zero": false}, "axis": {"values": [0, 5, 10, 15, 20], "title": null}},
               "color": {"field": "type", "type": "nominal", "title": "Trial−Type:", "scale": {"domain": ["Filler−Set", "Hebb−Set"], "range": ["#999999", "#F8766D"]}}
             },
             "layer": [
               {"mark": {"type": "line", "strokeWidth": 6, "opacity": 0.8},
                "encoding": {"y": {"field": "m", "type": "quantitative", "scale": {"domain": [-0.045, 1.045], "nice": false, "zero": false}, "axis": {"values": [0, 0.2, 0.4, 0.6, 0.8, 1], "format": ".1f", "title": "P(correct)"}}}},
               {"mark": {"type": "errorbar", "thickness": 3, "ticks": {"size": 10}, "opacity": 0.8},
                "encoding": {"y": {"field": "lo", "type": "quantitative", "scale": {"domain": [-0.045, 1.045], "nice": false, "zero": false}, "axis": {"values": [0, 0.2, 0.4, 0.6, 0.8, 1], "format": ".1f", "title": "P(correct)"}}, "y2": {"field": "hi"}}},
               {"mark": {"type": "circle", "size": 100, "opacity": 1},
                "encoding": {"y": {"field": "m", "type": "quantitative", "scale": {"domain": [-0.045, 1.045], "nice": false, "zero": false}, "axis": {"values": [0, 0.2, 0.4, 0.6, 0.8, 1], "format": ".1f", "title": "P(correct)"}}}}
             ]}
          ]
        },
        {
          "spacing": 11,
          "vconcat": [
            {"width": 501, "height": 55, "view": {"fill": "#383838", "stroke": "#1a1a1a", "strokeWidth": 2},
             "data": {"values": [{"s": "Visual"}]}, "mark": {"type": "text", "color": "white", "fontSize": 28},
             "encoding": {"text": {"field": "s", "type": "nominal"}}},
            {"width": 501, "height": 281, "data": {"name": "agg"}, "transform": [{"filter": "datum.task === 'Visual'"}],
             "encoding": {
               "x": {"field": "rep", "type": "quantitative", "scale": {"domain": [-1.68, 31.68], "nice": false, "zero": false}, "axis": {"values": [0, 5, 10, 15, 20, 25, 30], "title": null}},
               "color": {"field": "type", "type": "nominal", "title": "Trial−Type:", "scale": {"domain": ["Filler−Set", "Hebb−Set"], "range": ["#999999", "#F8766D"]}}
             },
             "layer": [
               {"mark": {"type": "line", "strokeWidth": 6, "opacity": 0.8},
                "encoding": {"y": {"field": "m", "type": "quantitative", "scale": {"domain": [-0.045, 1.045], "nice": false, "zero": false}, "axis": {"values": [0, 0.2, 0.4, 0.6, 0.8, 1], "format": ".1f", "title": "P(correct)"}}}},
               {"mark": {"type": "errorbar", "thickness": 3, "ticks": {"size": 9}, "opacity": 0.8},
                "encoding": {"y": {"field": "lo", "type": "quantitative", "scale": {"domain": [-0.045, 1.045], "nice": false, "zero": false}, "axis": {"values": [0, 0.2, 0.4, 0.6, 0.8, 1], "format": ".1f", "title": "P(correct)"}}, "y2": {"field": "hi"}}},
               {"mark": {"type": "circle", "size": 100, "opacity": 1},
                "encoding": {"y": {"field": "m", "type": "quantitative", "scale": {"domain": [-0.045, 1.045], "nice": false, "zero": false}, "axis": {"values": [0, 0.2, 0.4, 0.6, 0.8, 1], "format": ".1f", "title": "P(correct)"}}}}
             ]}
          ]
        }
      ]
    },
    {
      "title": {"text": "B", "anchor": "start", "frame": "bounds", "fontSize": 46, "offset": -27, "dx": 7},
      "spacing": 42,
      "hconcat": [
        {
          "title": {"text": "Repetition", "orient": "bottom", "anchor": "middle", "frame": "bounds", "fontSize": 32, "offset": 8, "dx": 49},
          "vconcat": [
            {
              "title": {"text": "P(correct)", "orient": "left", "anchor": "middle", "frame": "bounds", "fontSize": 32, "offset": 13},
              "columns": 2, "align": "each", "spacing": {"row": 15, "column": 16},
              "concat": [
                {"spacing": 0, "vconcat": [
                  {"width": 241, "height": 44, "view": {"fill": "#383838", "stroke": "#1a1a1a", "strokeWidth": 2}, "data": {"values": [{"s": "Participant 1"}]}, "mark": {"type": "text", "color": "white", "fontSize": 24.5}, "encoding": {"text": {"field": "s", "type": "nominal"}}},
                  {"width": 241, "height": 249, "data": {"name": "verbal"}, "transform": [{"filter": "datum.pid === 1"}],
                   "encoding": {
                     "x": {"field": "rep", "type": "quantitative", "scale": {"domain": [-1.15, 21.15], "nice": false, "zero": false}, "axis": {"values": [0, 5, 10, 15, 20], "title": null}},
                     "y": {"field": "p", "type": "quantitative", "scale": {"domain": [-0.045, 1.045], "nice": false, "zero": false}, "axis": {"values": [0, 0.2, 0.4, 0.6, 0.8, 1], "format": ".1f", "title": null}},
                     "color": {"field": "type", "type": "nominal", "title": "Trial−Type:", "scale": {"domain": ["Filler−Set", "Hebb−Set"], "range": ["#999999", "#F8766D"]}}
                   },
                   "layer": [{"mark": {"type": "line", "strokeWidth": 6, "opacity": 0.8}}, {"mark": {"type": "circle", "size": 100, "opacity": 1}}]}
                ]},
                {"spacing": 0, "vconcat": [
                  {"width": 241, "height": 44, "view": {"fill": "#383838", "stroke": "#1a1a1a", "strokeWidth": 2}, "data": {"values": [{"s": "Participant 2"}]}, "mark": {"type": "text", "color": "white", "fontSize": 24.5}, "encoding": {"text": {"field": "s", "type": "nominal"}}},
                  {"width": 241, "height": 249, "data": {"name": "verbal"}, "transform": [{"filter": "datum.pid === 2"}],
                   "encoding": {
                     "x": {"field": "rep", "type": "quantitative", "scale": {"domain": [-1.15, 21.15], "nice": false, "zero": false}, "axis": {"values": [0, 5, 10, 15, 20], "title": null}},
                     "y": {"field": "p", "type": "quantitative", "scale": {"domain": [-0.045, 1.045], "nice": false, "zero": false}, "axis": null},
                     "color": {"field": "type", "type": "nominal", "title": "Trial−Type:", "scale": {"domain": ["Filler−Set", "Hebb−Set"], "range": ["#999999", "#F8766D"]}}
                   },
                   "layer": [{"mark": {"type": "line", "strokeWidth": 6, "opacity": 0.8}}, {"mark": {"type": "circle", "size": 100, "opacity": 1}}]}
                ]},
                {"spacing": 0, "vconcat": [
                  {"width": 241, "height": 44, "view": {"fill": "#383838", "stroke": "#1a1a1a", "strokeWidth": 2}, "data": {"values": [{"s": "Participant 3"}]}, "mark": {"type": "text", "color": "white", "fontSize": 24.5}, "encoding": {"text": {"field": "s", "type": "nominal"}}},
                  {"width": 241, "height": 249, "data": {"name": "verbal"}, "transform": [{"filter": "datum.pid === 3"}],
                   "encoding": {
                     "x": {"field": "rep", "type": "quantitative", "scale": {"domain": [-1.15, 21.15], "nice": false, "zero": false}, "axis": {"values": [0, 5, 10, 15, 20], "title": null}},
                     "y": {"field": "p", "type": "quantitative", "scale": {"domain": [-0.045, 1.045], "nice": false, "zero": false}, "axis": {"values": [0, 0.2, 0.4, 0.6, 0.8, 1], "format": ".1f", "title": null}},
                     "color": {"field": "type", "type": "nominal", "title": "Trial−Type:", "scale": {"domain": ["Filler−Set", "Hebb−Set"], "range": ["#999999", "#F8766D"]}}
                   },
                   "layer": [{"mark": {"type": "line", "strokeWidth": 6, "opacity": 0.8}}, {"mark": {"type": "circle", "size": 100, "opacity": 1}}]}
                ]},
                {"spacing": 0, "vconcat": [
                  {"width": 241, "height": 44, "view": {"fill": "#383838", "stroke": "#1a1a1a", "strokeWidth": 2}, "data": {"values": [{"s": "Participant 4"}]}, "mark": {"type": "text", "color": "white", "fontSize": 24.5}, "encoding": {"text": {"field": "s", "type": "nominal"}}},
                  {"width": 241, "height": 249, "data": {"name": "verbal"}, "transform": [{"filter": "datum.pid === 4"}],
                   "encoding": {
                     "x": {"field": "rep", "type": "quantitative", "scale": {"domain": [-1.15, 21.15], "nice": false, "zero": false}, "axis": {"values": [0, 5, 10, 15, 20], "title": null}},
                     "y": {"field": "p", "type": "quantitative", "scale": {"domain": [-0.045, 1.045], "nice": false, "zero": false}, "axis": null},
                     "color": {"field": "type", "type": "nominal", "title": "Trial−Type:", "scale": {"domain": ["Filler−Set", "Hebb−Set"], "range": ["#999999", "#F8766D"]}}
                   },
                   "layer": [{"mark": {"type": "line", "strokeWidth": 6, "opacity": 0.8}}, {"mark": {"type": "circle", "size": 100, "opacity": 1}}]}
                ]}
              ]
            }
          ]
        },
        {
          "title": {"text": "Repetition", "orient": "bottom", "anchor": "middle", "frame": "bounds", "fontSize": 32, "offset": 8, "dx": 49},
          "vconcat": [
            {
              "title": {"text": "P(correct)", "orient": "left", "anchor": "middle", "frame": "bounds", "fontSize": 32, "offset": 13},
              "columns": 2, "align": "each", "spacing": {"row": 15, "column": 16},
              "concat": [
                {"spacing": 0, "vconcat": [
                  {"width": 241, "height": 44, "view": {"fill": "#383838", "stroke": "#1a1a1a", "strokeWidth": 2}, "data": {"values": [{"s": "Participant 1"}]}, "mark": {"type": "text", "color": "white", "fontSize": 24.5}, "encoding": {"text": {"field": "s", "type": "nominal"}}},
                  {"width": 241, "height": 249, "data": {"name": "visual"}, "transform": [{"filter": "datum.pid === 1"}],
                   "encoding": {
                     "x": {"field": "rep", "type": "quantitative", "scale": {"domain": [-1.68, 31.68], "nice": false, "zero": false}, "axis": {"values": [0, 10, 20, 30], "title": null}},
                     "y": {"field": "p", "type": "quantitative", "scale": {"domain": [-0.045, 1.045], "nice": false, "zero": false}, "axis": {"values": [0, 0.2, 0.4, 0.6, 0.8, 1], "format": ".1f", "title": null}},
                     "color": {"field": "type", "type": "nominal", "title": "Trial−Type:", "scale": {"domain": ["Filler−Set", "Hebb−Set"], "range": ["#999999", "#F8766D"]}}
                   },
                   "layer": [{"mark": {"type": "line", "strokeWidth": 6, "opacity": 0.8}}, {"mark": {"type": "circle", "size": 100, "opacity": 1}}]}
                ]},
                {"spacing": 0, "vconcat": [
                  {"width": 241, "height": 44, "view": {"fill": "#383838", "stroke": "#1a1a1a", "strokeWidth": 2}, "data": {"values": [{"s": "Participant 2"}]}, "mark": {"type": "text", "color": "white", "fontSize": 24.5}, "encoding": {"text": {"field": "s", "type": "nominal"}}},
                  {"width": 241, "height": 249, "data": {"name": "visual"}, "transform": [{"filter": "datum.pid === 2"}],
                   "encoding": {
                     "x": {"field": "rep", "type": "quantitative", "scale": {"domain": [-1.68, 31.68], "nice": false, "zero": false}, "axis": {"values": [0, 10, 20, 30], "title": null}},
                     "y": {"field": "p", "type": "quantitative", "scale": {"domain": [-0.045, 1.045], "nice": false, "zero": false}, "axis": null},
                     "color": {"field": "type", "type": "nominal", "title": "Trial−Type:", "scale": {"domain": ["Filler−Set", "Hebb−Set"], "range": ["#999999", "#F8766D"]}}
                   },
                   "layer": [{"mark": {"type": "line", "strokeWidth": 6, "opacity": 0.8}}, {"mark": {"type": "circle", "size": 100, "opacity": 1}}]}
                ]},
                {"spacing": 0, "vconcat": [
                  {"width": 241, "height": 44, "view": {"fill": "#383838", "stroke": "#1a1a1a", "strokeWidth": 2}, "data": {"values": [{"s": "Participant 3"}]}, "mark": {"type": "text", "color": "white", "fontSize": 24.5}, "encoding": {"text": {"field": "s", "type": "nominal"}}},
                  {"width": 241, "height": 249, "data": {"name": "visual"}, "transform": [{"filter": "datum.pid === 3"}],
                   "encoding": {
                     "x": {"field": "rep", "type": "quantitative", "scale": {"domain": [-1.68, 31.68], "nice": false, "zero": false}, "axis": {"values": [0, 10, 20, 30], "title": null}},
                     "y": {"field": "p", "type": "quantitative", "scale": {"domain": [-0.045, 1.045], "nice": false, "zero": false}, "axis": {"values": [0, 0.2, 0.4, 0.6, 0.8, 1], "format": ".1f", "title": null}},
                     "color": {"field": "type", "type": "nominal", "title": "Trial−Type:", "scale": {"domain": ["Filler−Set", "Hebb−Set"], "range": ["#999999", "#F8766D"]}}
                   },
                   "layer": [{"mark": {"type": "line", "strokeWidth": 6, "opacity": 0.8}}, {"mark": {"type": "circle", "size": 100, "opacity": 1}}]}
                ]},
                {"spacing": 0, "vconcat": [
                  {"width": 241, "height": 44, "view": {"fill": "#383838", "stroke": "#1a1a1a", "strokeWidth": 2}, "data": {"values": [{"s": "Participant 4"}]}, "mark": {"type": "text", "color": "white", "fontSize": 24.5}, "encoding": {"text": {"field": "s", "type": "nominal"}}},
                  {"width": 241, "height": 249, "data": {"name": "visual"}, "transform": [{"filter": "datum.pid === 4"}],
                   "encoding": {
                     "x": {"field": "rep", "type": "quantitative", "scale": {"domain": [-1.68, 31.68], "nice": false, "zero": false}, "axis": {"values": [0, 10, 20, 30], "title": null}},
                     "y": {"field": "p", "type": "quantitative", "scale": {"domain": [-0.045, 1.045], "nice": false, "zero": false}, "axis": null},
                     "color": {"field": "type", "type": "nominal", "title": "Trial−Type:", "scale": {"domain": ["Filler−Set", "Hebb−Set"], "range": ["#999999", "#F8766D"]}}
                   },
                   "layer": [{"mark": {"type": "line", "strokeWidth": 6, "opacity": 0.8}}, {"mark": {"type": "circle", "size": 100, "opacity": 1}}]}
                ]}
              ]
            }
          ]
        }
      ]
    }
  ]
}
